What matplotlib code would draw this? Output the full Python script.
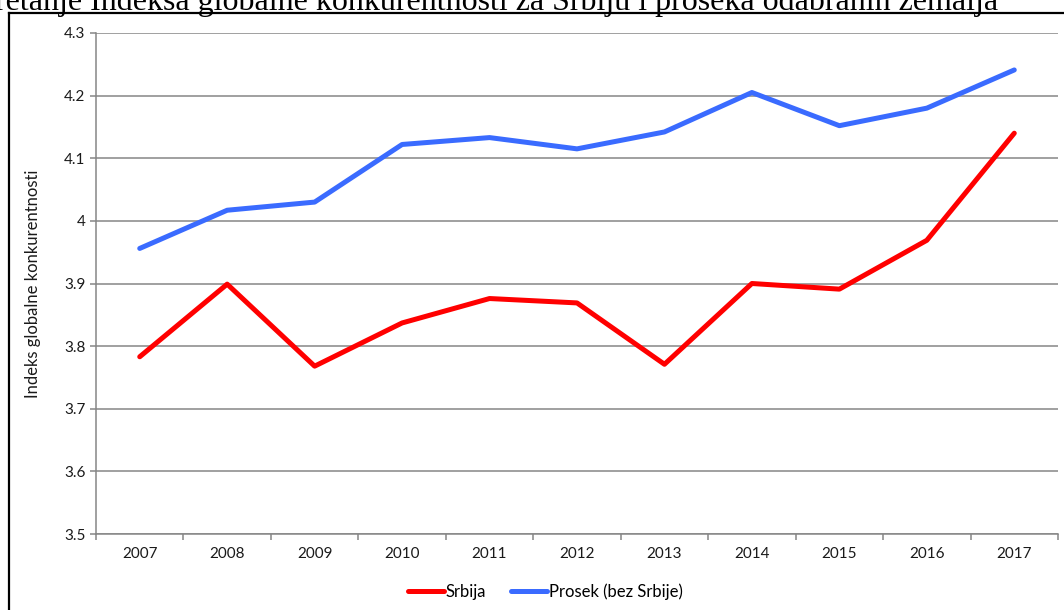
import numpy as np
import matplotlib
matplotlib.use("Agg")
import matplotlib.pyplot as plt
from matplotlib.lines import Line2D

# podaci
godine = ['2007', '2008', '2009', '2010', '2011', '2012', '2013', '2014', '2015', '2016', '2017']
srbija = [3.783, 3.899, 3.768, 3.837, 3.876, 3.869, 3.771, 3.90, 3.891, 3.969, 4.140]
prosek = [3.956, 4.017, 4.030, 4.122, 4.133, 4.115, 4.142, 4.205, 4.152, 4.180, 4.241]
y_ticks = [3.5, 3.6, 3.7, 3.8, 3.9, 4.0, 4.1, 4.2, 4.3]
y_tick_labels = ['3.5', '3.6', '3.7', '3.8', '3.9', '4', '4.1', '4.2', '4.3']

siva = '#868686'
tekst = '#1a1a1a'
plt.rcParams['font.family'] = ['Lato', 'DejaVu Sans']

fig = plt.figure(figsize=(10.64, 6.10), dpi=100)
ax = fig.add_axes([96/1064, 76/610, (1058-96)/1064, (534-33)/610])

x = np.arange(len(godine))
ax.plot(x, srbija, color='#FF0000', lw=3.6, solid_joinstyle='round',
        solid_capstyle='round', label='Srbija', zorder=3)
ax.plot(x, prosek, color='#3A6BFF', lw=3.6, solid_joinstyle='round',
        solid_capstyle='round', label='Prosek (bez Srbije)', zorder=3)

ax.set_xlim(-0.5, len(godine) - 0.5)
ax.set_ylim(3.5, 4.3)
ax.set_yticks(y_ticks)
ax.set_yticklabels(y_tick_labels)
ax.set_xticks(x)
ax.set_xticklabels(godine)
ax.set_xticks(np.arange(-0.5, len(godine)), minor=True)

ax.grid(axis='y', color=siva, lw=1.1)
ax.set_axisbelow(True)
for s in ['top', 'right']:
    ax.spines[s].set_visible(False)
for s in ['left', 'bottom']:
    ax.spines[s].set_color(siva)
    ax.spines[s].set_linewidth(1.1)

ax.tick_params(axis='y', length=4.5, width=1.1, color=siva, pad=3,
               labelsize=11, labelcolor=tekst)
ax.tick_params(axis='x', which='major', length=0, pad=9,
               labelsize=11, labelcolor=tekst)
ax.tick_params(axis='x', which='minor', length=4, width=1.1, color=siva)

ax.set_ylabel('Indeks globalne konkurentnosti', fontsize=12, color=tekst)
ax.yaxis.set_label_coords((41-96)/962, 0.5)

ax.legend(loc='center', bbox_to_anchor=(0.467, (18-76)/501), ncol=2,
          frameon=False, fontsize=12, handlelength=2.15, handletextpad=0.1,
          columnspacing=1.5)

# naslov (odsečen na vrhu) i okvir
fig.text(998/1064, 600/610,
         'retanje Indeksa globalne konkurentnosti za Srbiju i proseka odabranih zemalja',
         family='Liberation Serif', fontsize=23, ha='right', va='baseline')
fig.add_artist(Line2D([9/1064, 9/1064], [0, 597/610], color='black', lw=1.6))
fig.add_artist(Line2D([9/1064, 1], [597/610, 597/610], color='black', lw=1.6))

fig.savefig('out.png', dpi=100)
